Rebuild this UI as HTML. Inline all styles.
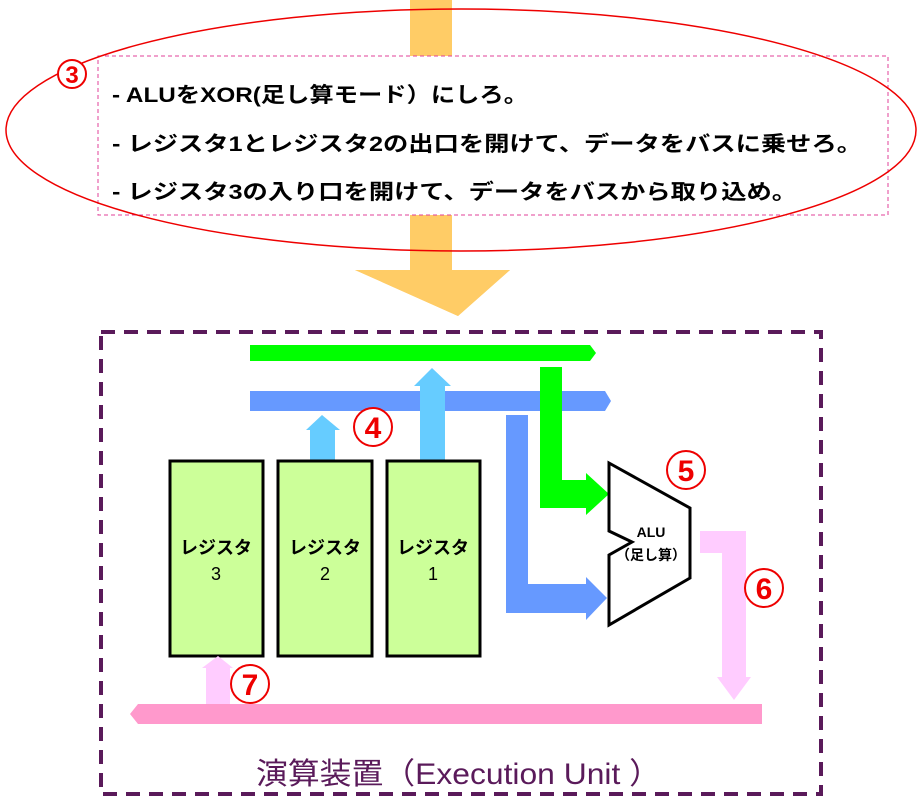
<!DOCTYPE html>
<html><head><meta charset="utf-8"><style>
body{margin:0;width:922px;height:804px;background:#fff;overflow:hidden}
svg{display:block}
text{font-family:"Liberation Sans","Noto Sans CJK JP",sans-serif}
</style></head><body>
<svg width="922" height="804" viewBox="0 0 922 804">
<rect x="410" y="0" width="42" height="272" fill="#ffcc66"/>
<polygon points="355,270 510,270 458,316" fill="#ffcc66"/>
<rect x="98" y="56" width="790" height="159" fill="#fff" stroke="#e0409a" stroke-width="1" stroke-dasharray="4,3"/>
<rect x="410" y="217" width="42" height="55" fill="#ffcc66"/>
<polygon points="355,270 510,270 458,316" fill="#ffcc66"/>
<ellipse cx="461" cy="130" rx="455" ry="121" fill="none" stroke="#e00" stroke-width="1.5"/>
<circle cx="72" cy="74" r="14" fill="#fff" stroke="#e00" stroke-width="2"/>
<text x="72" y="83" font-size="24" font-weight="bold" fill="#e00" text-anchor="middle">3</text>
<g font-size="21" fill="#000" font-weight="bold">
<text x="112" y="102" textLength="416" lengthAdjust="spacingAndGlyphs">- ALUをXOR(足し算モード）にしろ。</text>
<text x="112" y="151" textLength="750" lengthAdjust="spacingAndGlyphs">-  レジスタ1とレジスタ2の出口を開けて、データをバスに乗せろ。</text>
<text x="112" y="199" textLength="685" lengthAdjust="spacingAndGlyphs">- レジスタ3の入り口を開けて、データをバスから取り込め。</text>
</g>
<rect x="101" y="332" width="720" height="462" fill="none" stroke="#5a1a5a" stroke-width="4" stroke-dasharray="14,9"/>
<polygon points="250,345 590,345 596,353 590,361 250,361" fill="#00ff00"/>
<polygon points="250,391 605,391 611,401 605,411 250,411" fill="#6699ff"/>
<polygon points="540,367 562,367 562,480 586,480 586,473 609,494 586,515 586,508 540,508" fill="#00ff00"/>
<polygon points="506,415 528,415 528,584 586,584 586,577 607,598 586,620 586,613 506,613" fill="#6699ff"/>
<polygon points="310,461 335,461 335,430 340,430 322,415 306,430 310,430" fill="#66ccff"/>
<polygon points="420,461 445,461 445,386 451,386 432,368 414,386 420,386" fill="#66ccff"/>
<g fill="#ccff99" stroke="#000" stroke-width="3">
<rect x="170" y="461" width="93" height="195"/>
<rect x="278" y="461" width="94" height="195"/>
<rect x="387" y="461" width="93" height="195"/>
</g>
<g font-size="18" fill="#000" text-anchor="middle" font-weight="bold">
<text x="216" y="554">レジスタ</text><text x="216" y="580" font-family="Liberation Serif,serif" font-weight="normal">3</text>
<text x="325" y="554">レジスタ</text><text x="325" y="580" font-family="Liberation Serif,serif" font-weight="normal">2</text>
<text x="433" y="554">レジスタ</text><text x="433" y="580" font-family="Liberation Serif,serif" font-weight="normal">1</text>
</g>
<polygon points="609,463 690,508 690,578 609,625 609,555 632,542 609,531" fill="#fff" stroke="#000" stroke-width="3"/>
<text x="651" y="537" font-size="14" font-weight="bold" text-anchor="middle">ALU</text>
<text x="651" y="560" font-size="14" font-weight="bold" text-anchor="middle">（足し算）</text>
<polygon points="700,531 746,531 746,677 751,677 734,700 717,677 722,677 722,553 700,553" fill="#ffccff"/>
<polygon points="138,704 762,704 762,724 138,724 130,714" fill="#ff99cc"/>
<polygon points="206,704 230,704 230,668 233,668 218,656 202,668 206,668" fill="#ffccff"/>
<g fill="#fff" stroke="#e00" stroke-width="2">
<circle cx="373" cy="427" r="19"/><circle cx="686" cy="470" r="19"/><circle cx="764" cy="588" r="19"/><circle cx="250" cy="684" r="19"/>
</g>
<g font-size="30" font-weight="bold" fill="#e00" text-anchor="middle">
<text x="373" y="438">4</text><text x="686" y="481">5</text><text x="764" y="599">6</text><text x="250" y="695">7</text>
</g>
<text x="256" y="784" font-size="30" fill="#5a1a5a" textLength="405" lengthAdjust="spacingAndGlyphs">演算装置（Execution Unit ）</text>
</svg>
</body></html>
